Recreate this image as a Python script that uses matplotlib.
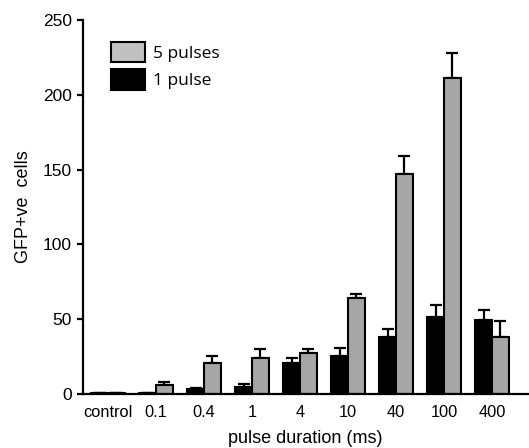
import matplotlib
matplotlib.use("Agg")
import matplotlib.pyplot as plt
import numpy as np
from matplotlib.patches import Patch

categories = ["control", "0.1", "0.4", "1", "4", "10", "40", "100", "400"]
one_pulse = [0.5, 1.0, 3.5, 5.0, 20.7, 25.5, 38.0, 51.3, 49.3]
one_pulse_err = [0.0, 0.0, 0.5, 1.5, 3.3, 5.2, 5.3, 8.0, 6.7]
five_pulses = [0.5, 6.0, 21.0, 24.0, 27.3, 64.0, 147.0, 211.0, 38.0]
five_pulses_err = [0.0, 2.0, 4.5, 6.0, 2.7, 2.7, 12.0, 17.0, 10.7]
y_ticks = [0, 50, 100, 150, 200, 250]

fig = plt.figure(figsize=(5.29, 4.48), dpi=100)
ax = fig.add_axes([83/529, 1-394/448, (528-83)/529, (394-20)/448])

x = np.arange(len(categories))
w = 0.345
lw = 1.5
ax.bar(x - w/2, one_pulse, w, color="black", edgecolor="black", linewidth=lw, zorder=2)
ax.bar(x + w/2, five_pulses, w, color="#a6a6a6", edgecolor="black", linewidth=lw, zorder=2)
ax.errorbar(x - w/2, one_pulse, yerr=[np.zeros(len(x)), one_pulse_err], fmt="none",
            ecolor="black", elinewidth=1.6, capsize=4, capthick=1.6, zorder=1)
ax.errorbar(x + w/2, five_pulses, yerr=[np.zeros(len(x)), five_pulses_err], fmt="none",
            ecolor="black", elinewidth=1.6, capsize=4, capthick=1.6, zorder=1)

ax.set_xlim(-0.52, 8.75)
ax.set_ylim(0, 250)
ax.set_yticks(y_ticks)
ax.set_xticks(x)
ax.set_xticklabels(categories)
for s in ["top", "right"]:
    ax.spines[s].set_visible(False)
for s in ["left", "bottom"]:
    ax.spines[s].set_linewidth(1.6)
ax.tick_params(axis="y", direction="out", length=4, width=1.6, labelsize=12.5, pad=4)
ax.tick_params(axis="x", length=0, labelsize=11.8, pad=8)
for lab in ax.get_xticklabels() + ax.get_yticklabels():
    lab.set_family("Liberation Sans")

ax.set_xlabel("pulse duration (ms)", fontsize=13, family="Liberation Sans", labelpad=7)
ax.set_ylabel("GFP+ve  cells", fontsize=13, family="Liberation Sans", labelpad=8)

handles = [Patch(facecolor="#c0c0c0", edgecolor="black", linewidth=1.5, label="5 pulses"),
           Patch(facecolor="black", edgecolor="black", linewidth=1.5, label="1 pulse")]
leg = ax.legend(handles=handles, loc="upper left", bbox_to_anchor=(0.035, 0.975),
                frameon=False, prop={"family": "Open Sans", "size": 12.5},
                handlelength=2.0, handleheight=1.45, handletextpad=0.45, labelspacing=0.4,
                borderaxespad=0.3)

fig.savefig("out.png", dpi=100)
